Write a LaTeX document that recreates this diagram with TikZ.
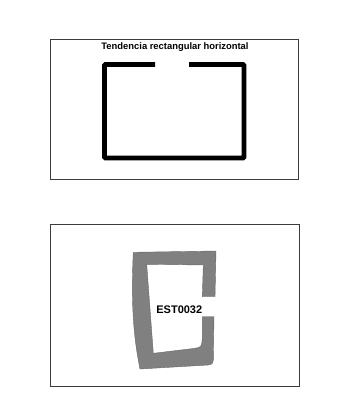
\documentclass[tikz,border=0pt]{standalone}
\usepackage{fontspec}
\setmainfont{Liberation Sans}
\usetikzlibrary{positioning}
\definecolor{frameGray}{RGB}{60,60,60}
\definecolor{shapeGray}{RGB}{128,128,128}
\definecolor{edgeGray}{RGB}{105,105,105}

\begin{document}
\begin{tikzpicture}[
    x=1pt, y=-1pt,
    frame box/.style={rectangle, draw=frameGray, line width=0.8pt, inner sep=0pt, fill=white},
    title note/.style={font=\fontsize{9.4}{10}\selectfont\bfseries, inner sep=1pt},
    code note/.style={font=\fontsize{11}{12}\selectfont\bfseries, inner sep=1pt},
    bracket/.style={line width=4.6pt, rounded corners=0.8pt},
    blob/.style={fill=shapeGray, draw=edgeGray, line width=0.4pt}
]
  \useasboundingbox (0,0) rectangle (339,418);
  \fill[white] (0,0) rectangle (339,418);

  % upper panel
  \node[frame box, minimum width=248pt, minimum height=140pt] (upper) at (174,109) {};
  \node[title note] (trend) at (175,47.5) {Tendencia rectangular horizontal};
  \coordinate (gapL) at (155,64.5);
  \coordinate (gapR) at (189,64.5);
  \draw[bracket] (gapL) -- (104.5,64.5) -- (104.5,158) -- (244,158) -- (244,64.5) -- (gapR);

  % lower panel
  \node[frame box, minimum width=249pt, minimum height=162.7pt] (lower) at (174.5,305.3) {};
  \draw[blob] (133.3,252.3) -- (216,251) -- (215,296.7) -- (202.3,296.7) -- (203.3,265)
    -- (146.7,264.3) -- (153.3,353.3) -- (195,348.3) .. controls (201.5,347) .. (202.3,338.3)
    -- (202.3,316.7) -- (214,316.7) -- (213.3,360) .. controls (212.5,364) .. (208.3,365)
    -- (140,369) .. controls (133,335) and (131,300) .. (133.3,252.3) -- cycle;
  \node[code note] (code) at (179.3,309.3) {EST0032};
\end{tikzpicture}
\end{document}
